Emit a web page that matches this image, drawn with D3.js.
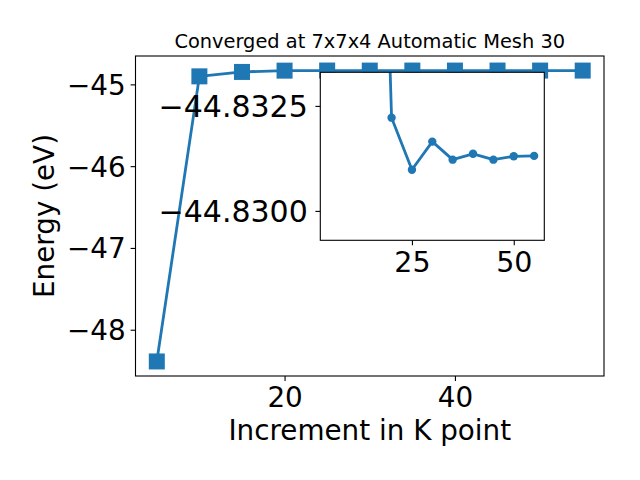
<!DOCTYPE html>
<html>
<head>
<meta charset="utf-8">
<script src="https://cdn.jsdelivr.net/npm/d3@7"></script>
<style>
  html, body { margin: 0; padding: 0; background: #fff; }
  svg { display: block; font-family: "DejaVu Sans", sans-serif; }
</style>
</head>
<body>
<svg id="chart" width="640" height="480"></svg>
<script>
// ---- data ----
const kpoints = [5, 10, 15, 20, 25, 30, 35, 40, 45, 50, 55];
const energies = [-48.388, -44.902, -44.848, -44.83222, -44.83098, -44.83165, -44.83122, -44.83136, -44.83122, -44.83130, -44.83131];
const mainXTicks = [20, 40];
const mainYTicks = [-45, -46, -47, -48];
const insetXTicks = [25, 50];
const insetYTicks = [-44.8325, -44.8300];
const insetYLimits = [-44.8293, -44.8333]; // bottom, top (inverted axis)
const titleText = "Converged at 7x7x4 Automatic Mesh 30";
const xLabelText = "Increment in K point";
const yLabelText = "Energy (eV)";

const color = "#1f77b4";
const svg = d3.select("#chart");

// ---- layout ----
const M = {left: 135.5, right: 604, top: 56, bottom: 376};
const I = {left: 320.3, right: 544.3, top: 72.3, bottom: 240.3};

function padded(ext) {
  const r = ext[1] - ext[0];
  return [ext[0] - 0.05 * r, ext[1] + 0.05 * r];
}
const xDom = padded(d3.extent(kpoints));
const yDom = padded(d3.extent(energies));

const x = d3.scaleLinear().domain(xDom).range([M.left, M.right]);
const y = d3.scaleLinear().domain(yDom).range([M.bottom, M.top]);
const xi = d3.scaleLinear().domain(xDom).range([I.left, I.right]);
const yi = d3.scaleLinear().domain(insetYLimits).range([I.bottom, I.top]);

const pts = kpoints.map((k, i) => ({k, e: energies[i]}));

// ---- main axes ----
svg.append("defs").append("clipPath").attr("id", "mainclip")
  .append("rect").attr("x", M.left).attr("y", M.top)
  .attr("width", M.right - M.left).attr("height", M.bottom - M.top);
svg.select("defs").append("clipPath").attr("id", "insetclip")
  .append("rect").attr("x", I.left).attr("y", I.top)
  .attr("width", I.right - I.left).attr("height", I.bottom - I.top);

const mainG = svg.append("g");
mainG.append("path")
  .datum(pts)
  .attr("fill", "none").attr("stroke", color).attr("stroke-width", 2.8)
  .attr("stroke-linejoin", "round")
  .attr("d", d3.line().x(d => x(d.k)).y(d => y(d.e)));
const sq = 16;
mainG.selectAll("rect.m").data(pts).join("rect")
  .attr("class", "m")
  .attr("x", d => x(d.k) - sq / 2).attr("y", d => y(d.e) - sq / 2)
  .attr("width", sq).attr("height", sq)
  .attr("fill", color);

const tickFont = 27.8;
const xAxis = d3.axisBottom(x).tickValues(mainXTicks).tickSizeInner(4.9).tickSizeOuter(0).tickPadding(4.9).tickFormat(d3.format("d"));
const yAxis = d3.axisLeft(y).tickValues(mainYTicks).tickSizeInner(4.9).tickSizeOuter(0).tickPadding(4.9).tickFormat(d3.format("d"));

const gx = svg.append("g").attr("transform", `translate(0,${M.bottom})`).call(xAxis);
const gy = svg.append("g").attr("transform", `translate(${M.left},0)`).call(yAxis);
[gx, gy].forEach(g => {
  g.select(".domain").remove();
  g.selectAll("line").attr("stroke", "#000").attr("stroke-width", 1.1);
  g.selectAll("text").attr("font-size", tickFont).attr("font-family", "DejaVu Sans").attr("fill", "#000");
});
gx.selectAll("text").attr("dy", null).attr("y", 31);
gy.selectAll("text").attr("dy", "0.36em");

svg.append("rect")
  .attr("x", M.left).attr("y", M.top)
  .attr("width", M.right - M.left).attr("height", M.bottom - M.top)
  .attr("fill", "none").attr("stroke", "#000").attr("stroke-width", 1.1);

// ---- inset ----
svg.append("rect")
  .attr("x", I.left).attr("y", I.top)
  .attr("width", I.right - I.left).attr("height", I.bottom - I.top)
  .attr("fill", "#fff");

const insetG = svg.append("g").attr("clip-path", "url(#insetclip)");
insetG.append("path")
  .datum(pts)
  .attr("fill", "none").attr("stroke", color).attr("stroke-width", 2.8)
  .attr("stroke-linejoin", "round")
  .attr("d", d3.line().x(d => xi(d.k)).y(d => yi(d.e)));
insetG.selectAll("circle").data(pts).join("circle")
  .attr("cx", d => xi(d.k)).attr("cy", d => yi(d.e)).attr("r", 4.2)
  .attr("fill", color);

const xiAxis = d3.axisBottom(xi).tickValues(insetXTicks).tickSizeInner(4.9).tickSizeOuter(0).tickPadding(4.9).tickFormat(d3.format("d"));
const yiAxis = d3.axisLeft(yi).tickValues(insetYTicks).tickSizeInner(4.9).tickSizeOuter(0).tickPadding(4.9).tickFormat(d3.format(".4f"));
const gxi = svg.append("g").attr("transform", `translate(0,${I.bottom})`).call(xiAxis);
const gyi = svg.append("g").attr("transform", `translate(${I.left},0)`).call(yiAxis);
[gxi, gyi].forEach(g => {
  g.select(".domain").remove();
  g.selectAll("line").attr("stroke", "#000").attr("stroke-width", 1.1);
  g.selectAll("text").attr("font-family", "DejaVu Sans").attr("fill", "#000");
});
gxi.selectAll("text").attr("font-size", 28.5).attr("dy", null).attr("y", 32);
gyi.selectAll("text").attr("font-size", 30).attr("dy", "0.36em").attr("x", -12.5);

svg.append("rect")
  .attr("x", I.left).attr("y", I.top)
  .attr("width", I.right - I.left).attr("height", I.bottom - I.top)
  .attr("fill", "none").attr("stroke", "#000").attr("stroke-width", 1.1);

// ---- titles ----
svg.append("text")
  .attr("x", (M.left + M.right) / 2).attr("y", 48.3)
  .attr("text-anchor", "middle").attr("font-size", 19.4)
  .text(titleText);
svg.append("text")
  .attr("x", (M.left + M.right) / 2).attr("y", 440)
  .attr("text-anchor", "middle").attr("font-size", 27.8)
  .text(xLabelText);
svg.append("text")
  .attr("transform", `translate(53.5,${(M.top + M.bottom) / 2}) rotate(-90)`)
  .attr("text-anchor", "middle").attr("font-size", 27.8)
  .text(yLabelText);
</script>
</body>
</html>
